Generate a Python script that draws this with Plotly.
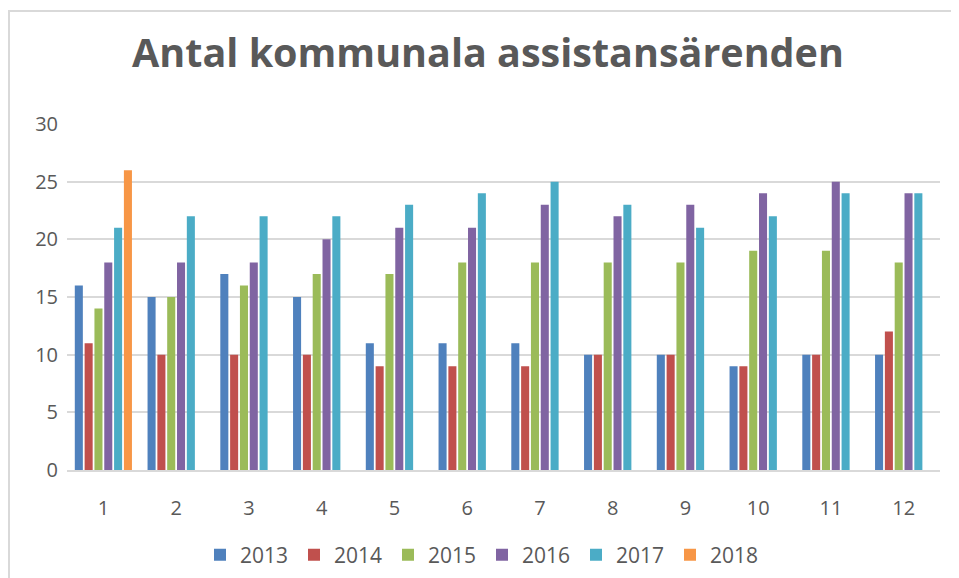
import plotly.graph_objects as go

categories = ["1", "2", "3", "4", "5", "6", "7", "8", "9", "10", "11", "12"]
years = ["2013", "2014", "2015", "2016", "2017", "2018"]
v2013 = [16, 15, 17, 15, 11, 11, 11, 10, 10, 9, 10, 10]
v2014 = [11, 10, 10, 10, 9, 9, 9, 10, 10, 9, 10, 12]
v2015 = [14, 15, 16, 17, 17, 18, 18, 18, 18, 19, 19, 18]
v2016 = [18, 18, 18, 20, 21, 21, 23, 22, 23, 24, 25, 24]
v2017 = [21, 22, 22, 22, 23, 24, 25, 23, 21, 22, 24, 24]
v2018 = [26, None, None, None, None, None, None, None, None, None, None, None]
yticks = [0, 5, 10, 15, 20, 25, 30]

series = [v2013, v2014, v2015, v2016, v2017, v2018]
colors = ["#4f81bd", "#c0504d", "#9bbb59", "#8064a2", "#4bacc6", "#f79646"]

FONT = "Open Sans"
W, H = 951, 570  # page body adds an 8px offset
fig = go.Figure()
for name, vals, col in zip(years, series, colors):
    fig.add_trace(go.Bar(x=categories, y=vals, name=name, marker_color=col,
                         marker_line_width=0))

fig.update_layout(
    width=W, height=H,
    paper_bgcolor="white", plot_bgcolor="white",
    margin=dict(l=59, r=19, t=116, b=108, autoexpand=False),
    barmode="group", bargap=0.19, bargroupgap=0.18,
    title=dict(text="<b>Antal kommunala assistansärenden</b>",
               x=(480 - 59) / 873, xref="paper", xanchor="center",
               y=1 - 45 / H, yref="container", yanchor="middle",
               font=dict(family=FONT, size=39.5, color="#595959")),
    font=dict(family=FONT, size=19, color="#595959"),
    xaxis=dict(showgrid=False, showline=True, linecolor="#d9d9d9", linewidth=2,
               ticks="", tickfont=dict(size=20, color="#595959"),
               ticklabelstandoff=19, automargin=False),
    yaxis=dict(range=[0, 30], tickvals=yticks, showgrid=True, gridcolor="#d9d9d9",
               gridwidth=2, zeroline=False, showline=False, ticks="",
               tickfont=dict(size=20, color="#595959"), ticklabelstandoff=8,
               automargin=False),
    legend=dict(orientation="h", x=(192 - 59) / 873, xanchor="left",
                y=-85 / 346, yanchor="middle",
                font=dict(size=21, color="#595959"), itemwidth=30,
                entrywidth=49, entrywidthmode="pixels",
                traceorder="normal"),
    shapes=[dict(type="rect", xref="paper", yref="paper", x0=-58 / 873, x1=1.2,
                 y0=-0.6, y1=(462 - 3) / 346, line=dict(color="#d9d9d9", width=2),
                 fillcolor="rgba(0,0,0,0)", layer="below")],
)
fig.write_html("out.html")
